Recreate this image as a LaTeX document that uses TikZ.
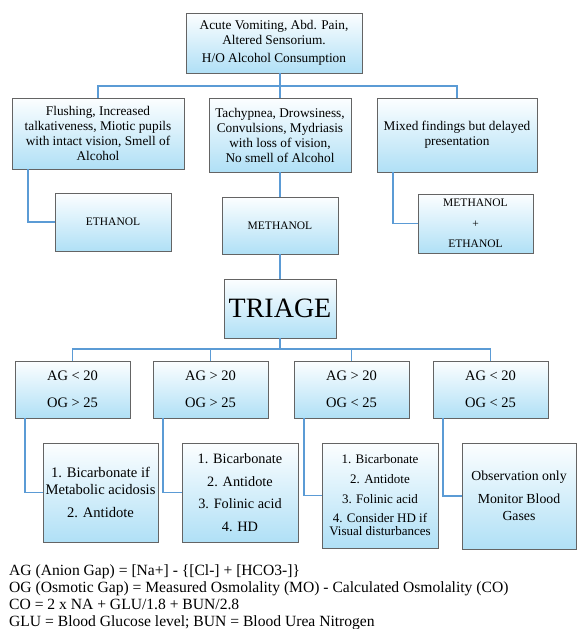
\documentclass[tikz,border=0pt]{standalone}
\usepackage{fontspec}
\setmainfont{Liberation Serif}
\usepackage{tikz}
\usetikzlibrary{positioning,calc}
\definecolor{cTop}{RGB}{252,254,255}
\definecolor{cBot}{RGB}{176,224,246}
\definecolor{cLine}{RGB}{91,155,213}
\definecolor{cEdge}{RGB}{100,100,100}
\tikzset{
  basebox/.style={rectangle,draw=cEdge,line width=0.8pt,top color=cTop,
                  bottom color=cBot,align=center,inner sep=1pt,outer sep=0pt,
                  anchor=north west},
  signbox/.style={basebox,font=\fontsize{13.3}{15}\selectfont},
  drugbox/.style={basebox,font=\fontsize{11.5}{12}\selectfont},
  gapbox/.style={basebox,minimum width=115pt,minimum height=57pt,
                 font=\fontsize{14.5}{27}\selectfont},
  treatbox/.style={basebox,font=\fontsize{14.3}{22.5}\selectfont},
  conn/.style={draw=cLine,line width=1.6pt}
}

\begin{document}
\begin{tikzpicture}[x=1pt,y=-1pt]
  \useasboundingbox (0,0) rectangle (576,629);

  % Presentation
  \node[signbox,minimum width=176pt,minimum height=60pt] (present) at (186,13)
      {Acute Vomiting, Abd. Pain,\\ Altered Sensorium.\\[3pt] H/O Alcohol Consumption};

  % Clinical findings
  \node[signbox,minimum width=172pt,minimum height=71pt] (flush) at (12,98)
      {Flushing, Increased\\ talkativeness, Miotic pupils\\ with intact vision, Smell of\\ Alcohol};
  \node[signbox,minimum width=142pt,minimum height=74pt] (tachy) at (209,98)
      {Tachypnea, Drowsiness,\\ Convulsions, Mydriasis\\ with loss of vision,\\ No smell of Alcohol};
  \node[signbox,minimum width=160pt,minimum height=74pt] (mixed) at (377,98)
      {Mixed findings but delayed\\ presentation};

  % Suspected alcohol
  \node[drugbox,minimum width=116pt,minimum height=58pt] (ethanol) at (55,193) {ETHANOL};
  \node[drugbox,minimum width=116pt,minimum height=57pt] (methanol) at (222,197) {METHANOL};
  \node[drugbox,minimum width=115pt,minimum height=59pt,
        font=\fontsize{11.5}{20.5}\selectfont] (both) at (418,194)
      {METHANOL\\ +\\ ETHANOL};

  % Triage
  \node[basebox,minimum width=112pt,minimum height=59pt,
        font=\fontsize{28}{30}\selectfont] (triage) at (224,279) {TRIAGE};

  % Gap criteria
  \node[gapbox] (gap1) at (15,361)  {AG < 20\\ OG > 25};
  \node[gapbox] (gap2) at (153,361) {AG > 20\\ OG > 25};
  \node[gapbox] (gap3) at (294,361) {AG > 20\\ OG < 25};
  \node[gapbox] (gap4) at (433,361) {AG < 20\\ OG < 25};

  % Treatment
  \node[treatbox,minimum width=115pt,minimum height=99pt,inner sep=0pt,
        font=\fontsize{14.6}{17}\selectfont] (treat1) at (43,443)
      {1. Bicarbonate if\\ Metabolic acidosis\\[6pt] 2. Antidote};
  \node[treatbox,minimum width=116pt,minimum height=99pt] (treat2) at (182,443)
      {1. Bicarbonate\\ 2. Antidote\\ 3. Folinic acid\\ 4. HD};
  \node[treatbox,minimum width=116pt,minimum height=105pt,
        font=\fontsize{13}{19.7}\selectfont] (treat3) at (322,443)
      {1. Bicarbonate\\ 2. Antidote\\ 3. Folinic acid\\ 4. Consider HD if\\[-6.7pt] Visual disturbances};
  \node[treatbox,minimum width=114pt,minimum height=106pt,
        font=\fontsize{13.8}{17}\selectfont] (treat4) at (462,443)
      {Observation only\\[6pt] Monitor Blood\\ Gases};

  % Legend
  \node[anchor=north west,align=left,inner sep=0pt,
        font=\fontsize{15.6}{17.3}\selectfont] (legend) at (9,564)
      {AG (Anion Gap) = [Na+] - \{[Cl-] + [HCO3-]\}\\
       OG (Osmotic Gap) = Measured Osmolality (MO) - Calculated Osmolality (CO)\\
       CO = 2 x NA + GLU/1.8 + BUN/2.8\\
       GLU = Blood Glucose level; BUN = Blood Urea Nitrogen};

  % Connectors
  \coordinate (bus1) at (0,86);
  \coordinate (bus2) at (0,349);
  \draw[conn] (present.south -| tachy.north) -- (tachy.north);
  \draw[conn] (flush.north) |- (bus1 -| tachy.north) -| (mixed.north);
  \draw[conn] ($(flush.south west)+(16,0)$) |- (ethanol.west);
  \draw[conn] ($(mixed.south west)+(16,0)$) |- (both.west);
  \draw[conn] (tachy.south) -- (methanol.north);
  \draw[conn] (methanol.south) -- (triage.north);
  \draw[conn] (triage.south) -- (bus2 -| triage.south);
  \draw[conn] (gap1.north) |- (bus2 -| gap4.north) -- (gap4.north);
  \draw[conn] (gap2.north) -- (bus2 -| gap2.north);
  \draw[conn] (gap3.north) -- (bus2 -| gap3.north);
  \foreach \g/\t in {gap1/treat1,gap2/treat2,gap3/treat3,gap4/treat4}
    \draw[conn] ($(\g.south west)+(10,0)$) |- (\t.west);

\end{tikzpicture}
\end{document}
